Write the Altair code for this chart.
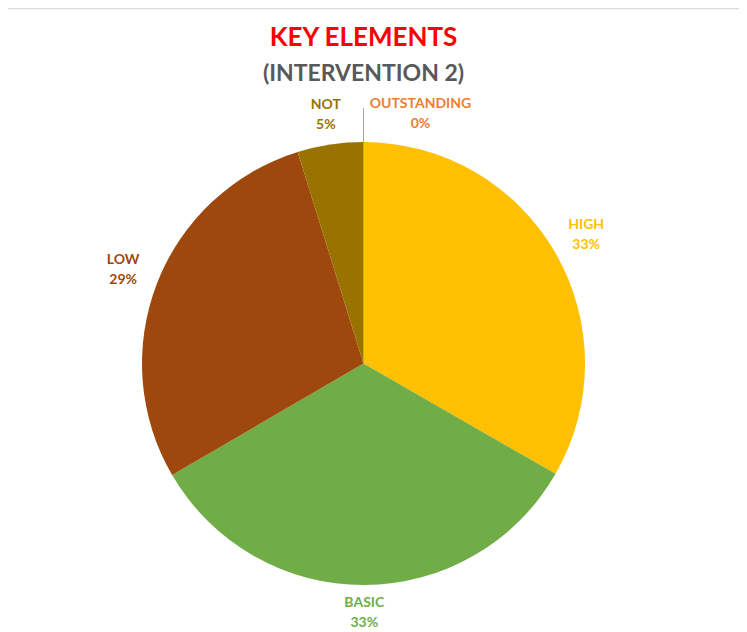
import altair as alt
import pandas as pd
import math

categories = ["OUTSTANDING", "HIGH", "BASIC", "LOW", "NOT"]
values = [0.0, 33.3, 33.3, 28.6, 4.8]
colors = ["#ED7D31", "#FFC000", "#70AD47", "#9E480E", "#997300"]

df = pd.DataFrame({"category": categories, "value": values, "idx": list(range(len(categories)))})

CX, CY, R = 355.5, 355.5, 221.5
FONT = "Lato"
color_enc = alt.Color("category:N", scale=alt.Scale(domain=categories, range=colors), legend=None)

pie = alt.Chart(df).mark_arc(outerRadius=R, x=CX, y=CY).encode(
    theta=alt.Theta("value:Q", stack=True),
    order=alt.Order("idx:Q"),
    color=color_enc,
)

lab_base = alt.Chart(df).transform_calculate(
    pct="format(datum.value, '.0f') + '%'"
).transform_joinaggregate(
    total="sum(value)"
).transform_window(
    cum="sum(value)", sort=[alt.SortField("idx")], frame=[None, 0]
).transform_calculate(
    mid="(datum.cum - datum.value / 2) / datum.total",
).transform_calculate(
    lr="249.5 + 9 * abs(sin(2 * PI * datum.mid))"
).encode(
    theta=alt.Theta("mid:Q", stack=None, scale=alt.Scale(domain=[0, 1], range=[0, 2 * math.pi])),
    radius=alt.Radius("lr:Q", scale=None),
    color=color_enc,
)

def labels(filt, dx=0):
    b = lab_base.transform_filter(filt)
    top = b.mark_text(x=CX, y=CY, dx=dx, dy=-10, font=FONT, fontWeight="bold",
                      fontSize=14, align="center", baseline="middle").encode(text="category:N")
    bot = b.mark_text(x=CX, y=CY, dx=dx, dy=10, font=FONT, fontWeight="bold",
                      fontSize=14, align="center", baseline="middle").encode(text="pct:N")
    return top + bot

main_labels = labels("datum.category != 'OUTSTANDING'")
out_labels = labels("datum.category == 'OUTSTANDING'", dx=57)

leader = alt.Chart(pd.DataFrame({"a": [0]})).mark_rule(color="#a6a6a6", strokeWidth=1).encode(
    x=alt.value(CX), y=alt.value(CY - R - 34), y2=alt.value(CY - R)
)

border = alt.Chart(pd.DataFrame({"a": [0]})).mark_rule(color="#d9d9d9", strokeWidth=1.5).encode(
    x=alt.value(0), x2=alt.value(739), y=alt.value(0.5)
)

title1 = alt.Chart(pd.DataFrame({"t": ["KEY ELEMENTS"]})).mark_text(
    font=FONT, fontWeight="bold", fontSize=26, color="#FF0000", align="center", baseline="middle"
).encode(x=alt.value(CX), y=alt.value(30), text="t:N")

title2 = alt.Chart(pd.DataFrame({"t": ["(INTERVENTION 2)"]})).mark_text(
    font=FONT, fontWeight="bold", fontSize=23, color="#595959", align="center", baseline="middle"
).encode(x=alt.value(CX), y=alt.value(66), text="t:N")

chart = alt.layer(border, pie, leader, main_labels, out_labels, title1, title2).resolve_scale(
    theta="independent"
).properties(
    width=731, height=624, padding=0, autosize=alt.AutoSizeParams(type="none")
).configure_view(stroke=None)

chart.save("out.html", embed_options={"renderer": "svg", "actions": False})
